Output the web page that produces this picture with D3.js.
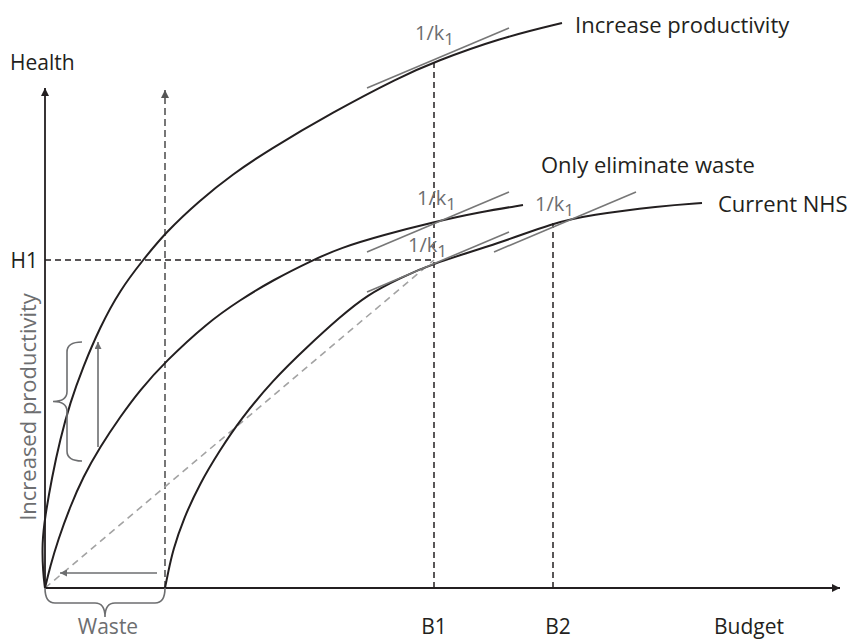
<!DOCTYPE html>
<html>
<head>
<meta charset="utf-8">
<script src="https://cdn.jsdelivr.net/npm/d3@7"></script>
<style>
  body { margin: 0; background: #fff; }
  text { font-family: 'Open Sans', 'Noto Sans', sans-serif; }
</style>
</head>
<body>
<div id="chart"></div>
<script>
// ── Data (budget units along x, health units along y) ──
var increaseProductivity = [[0,0],[-2,15],[-3,45],[0,71],[7,111],[15,148],[25,185],[38,221],[55,261],[75,298],[98,328],[120,355],[155,388],[188,414],[222,437],[288,476],[355,511],[389,526],[455,550],[517,565]];
var onlyEliminateWaste = [[0,0],[5,21],[13,48],[25,81],[38,111],[55,141],[75,171],[95,198],[120,226],[162,265],[195,288],[228,308],[268,328],[295,340],[338,353],[389,366],[435,376],[478,383]];
var currentNHS = [[120,0],[123,15],[128,38],[138,68],[155,105],[175,138],[195,168],[228,208],[262,241],[295,271],[322,293],[355,310],[389,325],[455,345],[508,365],[545,373],[615,382],[657,385]];

var budgetTicks = ['B1', 'B2'];
var budgetValues = [389, 508];
var healthTicks = ['H1'];
var healthValues = [328];
var wasteBudget = 120;

// tangent touch points (budget, health) and the common slope 1/k1
var tangentPoints = [[393,530],[393,366],[393,326],[520,366]];
var tangentSlope = 60 / 142;

// ── Layout ──
var WIDTH = 849, HEIGHT = 640;
var INK = '#231f20';
var GREY = '#6d6e70';
var FONT = 22;
var BOTTOM_BASELINE = 634;

var svg = d3.select('#chart').append('svg')
  .attr('width', WIDTH).attr('height', HEIGHT);

var x = d3.scaleLinear().domain([0, 800]).range([45, 845]);
var y = d3.scaleLinear().domain([0, 500]).range([588, 88]);

// arrow markers
var defs = svg.append('defs');
function marker(id, color, w, h) {
  defs.append('marker')
    .attr('id', id)
    .attr('viewBox', '0 0 10 10')
    .attr('refX', 10).attr('refY', 5)
    .attr('markerUnits', 'userSpaceOnUse')
    .attr('markerWidth', w).attr('markerHeight', h)
    .attr('orient', 'auto')
    .append('path').attr('d', 'M0,0L10,5L0,10z').attr('fill', color);
}
marker('arrow-ink', INK, 10, 8);
marker('arrow-dash', '#555', 9, 8);
marker('arrow-grey', GREY, 10, 7);

// ── Dashed guides ──
svg.append('line')
  .attr('x1', x(wasteBudget)).attr('x2', x(wasteBudget))
  .attr('y1', y(0)).attr('y2', y(498))
  .attr('stroke', '#555').attr('stroke-width', 1.6)
  .attr('stroke-dasharray', '7,4')
  .attr('marker-end', 'url(#arrow-dash)');

svg.append('line')
  .attr('x1', x(0)).attr('x2', x(budgetValues[0]))
  .attr('y1', y(healthValues[0])).attr('y2', y(healthValues[0]))
  .attr('stroke', INK).attr('stroke-width', 1.5)
  .attr('stroke-dasharray', '6,4');

var guideTops = [526, 365];
budgetValues.forEach(function (b, i) {
  svg.append('line')
    .attr('x1', x(b)).attr('x2', x(b))
    .attr('y1', y(0)).attr('y2', y(guideTops[i]))
    .attr('stroke', INK).attr('stroke-width', 1.5)
    .attr('stroke-dasharray', '6,4');
});

svg.append('line')
  .attr('x1', x(0)).attr('y1', y(0))
  .attr('x2', x(budgetValues[0])).attr('y2', y(healthValues[0]))
  .attr('stroke', '#a3a3a3').attr('stroke-width', 1.6)
  .attr('stroke-dasharray', '7,5');

// ── Axes ──
svg.append('line')
  .attr('x1', x(0)).attr('y1', y(0))
  .attr('x2', x(0)).attr('y2', y(500))
  .attr('stroke', INK).attr('stroke-width', 1.8)
  .attr('marker-end', 'url(#arrow-ink)');
svg.append('line')
  .attr('x1', x(0)).attr('y1', y(0))
  .attr('x2', x(795)).attr('y2', y(0))
  .attr('stroke', INK).attr('stroke-width', 1.8)
  .attr('marker-end', 'url(#arrow-ink)');

// ── Curves ──
var line = d3.line()
  .x(function (d) { return x(d[0]); })
  .y(function (d) { return y(d[1]); })
  .curve(d3.curveBasis);

[increaseProductivity, onlyEliminateWaste, currentNHS].forEach(function (c) {
  svg.append('path')
    .attr('d', line(c))
    .attr('fill', 'none')
    .attr('stroke', INK)
    .attr('stroke-width', 2);
});

// ── Tangents 1/k1 ──
var HALF = 71;
var labelOffsets = [[-23,-18],[-21,-17],[-30,-10],[-30,-11]];
tangentPoints.forEach(function (p, i) {
  svg.append('line')
    .attr('x1', x(p[0] - HALF)).attr('y1', y(p[1] - HALF * tangentSlope))
    .attr('x2', x(p[0] + HALF)).attr('y2', y(p[1] + HALF * tangentSlope))
    .attr('stroke', '#777').attr('stroke-width', 1.6);
  var t = svg.append('text')
    .attr('x', x(p[0]) + labelOffsets[i][0])
    .attr('y', y(p[1]) + labelOffsets[i][1])
    .attr('font-size', 20)
    .attr('fill', GREY);
  t.append('tspan').text('1/k');
  t.append('tspan').attr('dy', 5).attr('font-size', 17).text('1');
});

// ── Grey arrows ──
svg.append('line')
  .attr('x1', x(53)).attr('x2', x(53))
  .attr('y1', y(141)).attr('y2', y(246))
  .attr('stroke', GREY).attr('stroke-width', 1.6)
  .attr('marker-end', 'url(#arrow-grey)');
svg.append('line')
  .attr('x1', x(112)).attr('x2', x(15))
  .attr('y1', y(15)).attr('y2', y(15))
  .attr('stroke', GREY).attr('stroke-width', 1.6)
  .attr('marker-end', 'url(#arrow-grey)');

// ── Braces ──
function vBrace(xt, xa, xc, y0, y1) {
  var r = 10, ym = (y0 + y1) / 2;
  var p = d3.path();
  p.moveTo(xt, y0);
  p.quadraticCurveTo(xa, y0, xa, y0 + r);
  p.lineTo(xa, ym - r);
  p.quadraticCurveTo(xa, ym, xc, ym);
  p.quadraticCurveTo(xa, ym, xa, ym + r);
  p.lineTo(xa, y1 - r);
  p.quadraticCurveTo(xa, y1, xt, y1);
  return p.toString();
}
function hBrace(x0, x1, yt, ya, yc) {
  var r = 10, xm = (x0 + x1) / 2;
  var p = d3.path();
  p.moveTo(x0, yt);
  p.quadraticCurveTo(x0, ya, x0 + r, ya);
  p.lineTo(xm - r, ya);
  p.quadraticCurveTo(xm, ya, xm, yc);
  p.quadraticCurveTo(xm, ya, xm + r, ya);
  p.lineTo(x1 - r, ya);
  p.quadraticCurveTo(x1, ya, x1, yt);
  return p.toString();
}
svg.append('path')
  .attr('d', vBrace(x(37), x(22), x(8), y(246), y(127)))
  .attr('fill', 'none').attr('stroke', GREY).attr('stroke-width', 1.6);
svg.append('path')
  .attr('d', hBrace(x(0), x(wasteBudget), y(0), y(0) + 15, y(0) + 29))
  .attr('fill', 'none').attr('stroke', GREY).attr('stroke-width', 1.6);

// ── Text ──
function label(txt, px, py, opts) {
  opts = opts || {};
  return svg.append('text')
    .attr('x', px).attr('y', py)
    .attr('font-size', opts.size || FONT)
    .attr('fill', opts.fill || INK)
    .attr('text-anchor', opts.anchor || 'start')
    .text(txt);
}

label('Health', 10, 70, { size: 21 });
healthTicks.forEach(function (t, i) {
  label(t, 38, y(healthValues[i]) + 8, { size: 21, anchor: 'end' });
});
var tickShift = [0, 5];
budgetTicks.forEach(function (t, i) {
  label(t, x(budgetValues[i]) + tickShift[i], BOTTOM_BASELINE, { size: 21, anchor: 'middle' });
});
label('Budget', 714, BOTTOM_BASELINE, { size: 21 });
label('Waste', x(wasteBudget / 2) + 3, BOTTOM_BASELINE, { size: 21, anchor: 'middle', fill: GREY });

label('Increase productivity', 575, 33);
label('Only eliminate waste', 541, 173);
label('Current NHS', 718, 212);

svg.append('text')
  .attr('transform', 'translate(36,407) rotate(-90)')
  .attr('text-anchor', 'middle')
  .attr('font-size', FONT)
  .attr('fill', GREY)
  .text('Increased productivity');
</script>
</body>
</html>
